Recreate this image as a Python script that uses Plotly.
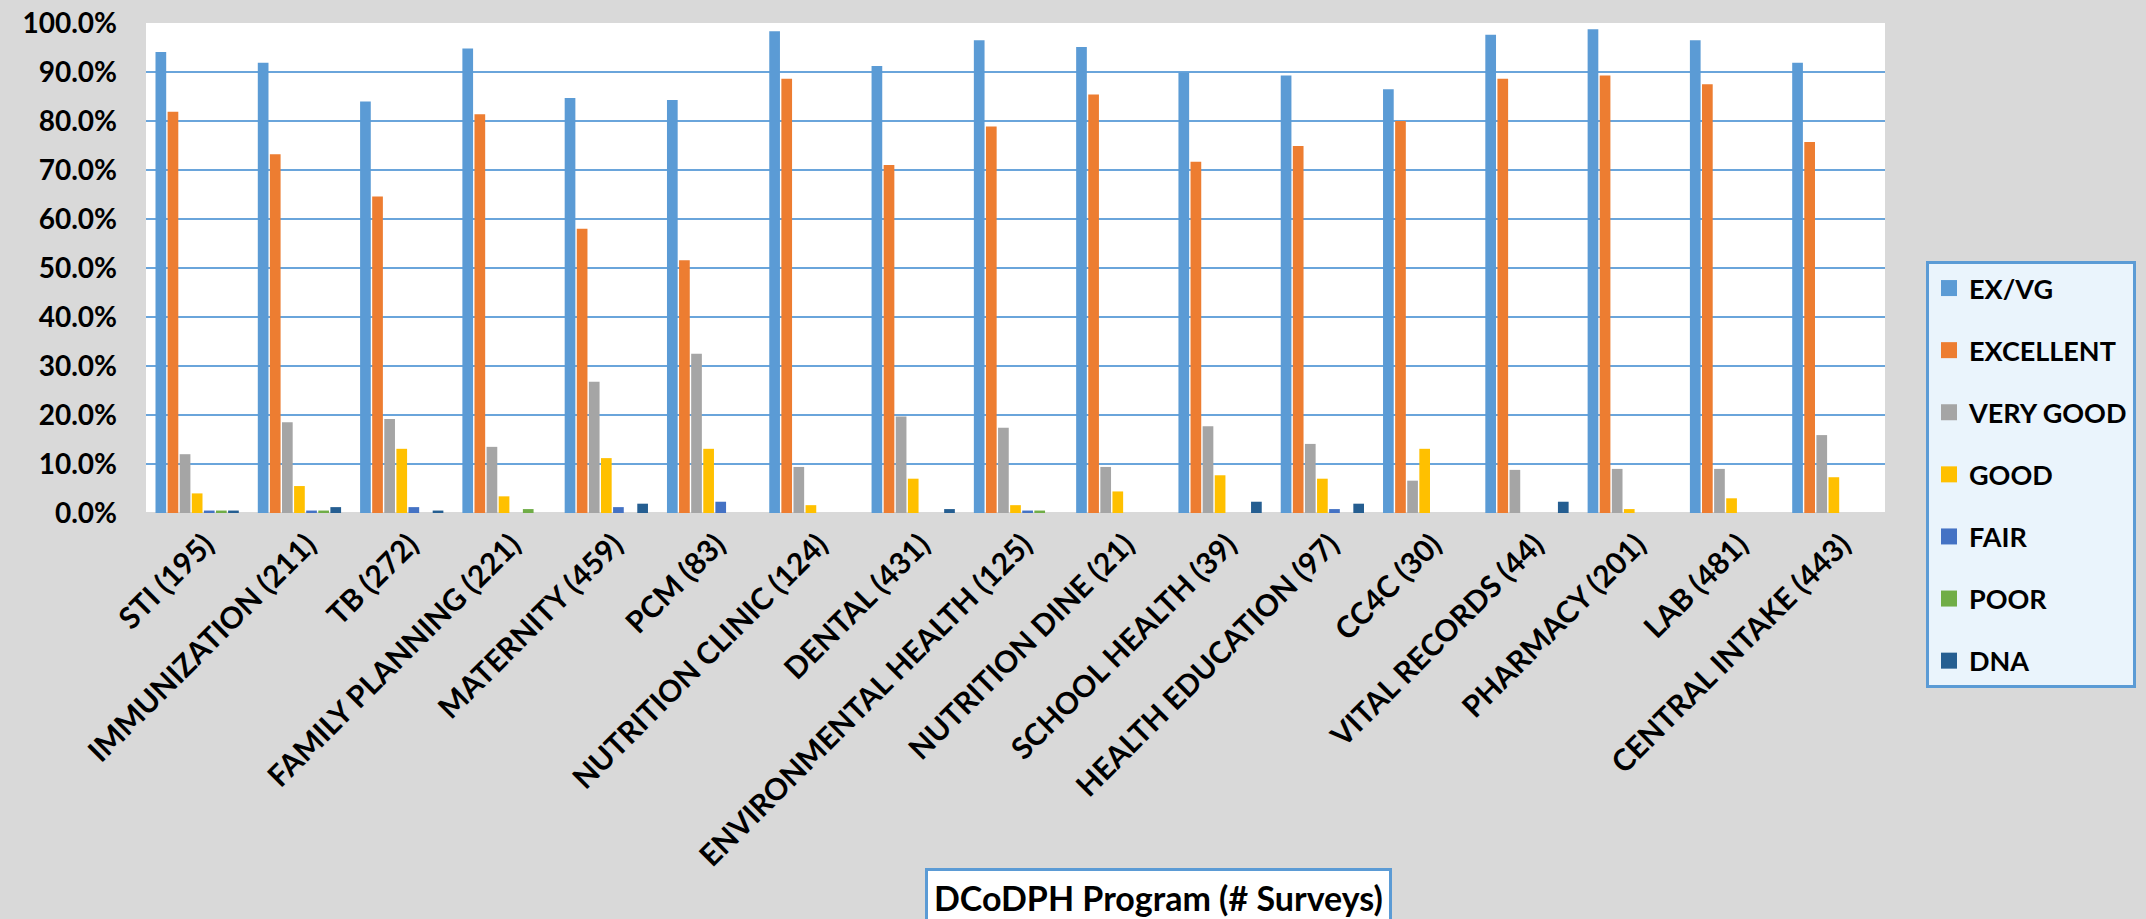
import plotly.graph_objects as go

# Programs surveyed (number of surveys in parentheses)
programs = [
    "STI (195)", "IMMUNIZATION (211)", "TB (272)", "FAMILY PLANNING (221)",
    "MATERNITY (459)", "PCM (83)", "NUTRITION CLINIC (124)", "DENTAL (431)",
    "ENVIRONMENTAL HEALTH (125)", "NUTRITION DINE (21)", "SCHOOL HEALTH (39)",
    "HEALTH EDUCATION (97)", "CC4C (30)", "VITAL RECORDS (44)",
    "PHARMACY (201)", "LAB (481)", "CENTRAL INTAKE (443)",
]

# Share of responses per rating (fractions)
ex_vg = [0.941, 0.919, 0.840, 0.948, 0.847, 0.843, 0.983, 0.912, 0.965,
         0.951, 0.899, 0.893, 0.865, 0.976, 0.987, 0.965, 0.919]
excellent = [0.819, 0.732, 0.646, 0.814, 0.580, 0.516, 0.886, 0.710, 0.789,
             0.854, 0.717, 0.749, 0.800, 0.886, 0.893, 0.875, 0.757]
very_good = [0.120, 0.185, 0.192, 0.135, 0.268, 0.325, 0.094, 0.197, 0.174,
             0.094, 0.177, 0.141, 0.066, 0.088, 0.090, 0.090, 0.159]
good = [0.040, 0.055, 0.131, 0.034, 0.112, 0.131, 0.016, 0.070, 0.016,
        0.044, 0.077, 0.070, 0.131, 0.0, 0.008, 0.030, 0.073]
fair = [0.005, 0.005, 0.012, 0.0, 0.012, 0.023, 0.0, 0.0, 0.005,
        0.0, 0.0, 0.008, 0.0, 0.0, 0.0, 0.0, 0.0]
poor = [0.005, 0.005, 0.0, 0.008, 0.0, 0.0, 0.0, 0.0, 0.005,
        0.0, 0.0, 0.0, 0.0, 0.0, 0.0, 0.0, 0.0]
dna = [0.005, 0.012, 0.005, 0.0, 0.019, 0.0, 0.0, 0.008, 0.0,
       0.0, 0.023, 0.019, 0.0, 0.023, 0.0, 0.0, 0.0]

series_names = ["EX/VG", "EXCELLENT", "VERY GOOD", "GOOD", "FAIR", "POOR", "DNA"]
series_values = [ex_vg, excellent, very_good, good, fair, poor, dna]
series_colors = ["#5B9BD5", "#ED7D31", "#A5A5A5", "#FFC000", "#4472C4", "#70AD47", "#255E91"]

FONT = "Lato"

fig = go.Figure()
for name, vals, col in zip(series_names, series_values, series_colors):
    fig.add_trace(go.Bar(
        x=programs, y=vals, name=name, marker_color=col,
        marker_line_width=0, showlegend=False,
    ))
# Legend entries with larger square swatches
for i, (name, col) in enumerate(zip(series_names, series_colors)):
    fig.add_trace(go.Scatter(
        x=[None], y=[None], mode="markers", name=name,
        marker=dict(symbol="square", size=17, color=col),
        legendgroup=f"g{i}", showlegend=True,
    ))

W, H = 2146, 919
L, R, T, B = 146, 2146 - 1885, 23, 406
plot_w = W - L - R
plot_h = H - T - B

fig.update_layout(
    width=W, height=H,
    margin=dict(l=L, r=R, t=T, b=B, autoexpand=False),
    paper_bgcolor="#d9d9d9",
    plot_bgcolor="#ffffff",
    barmode="group",
    bargap=0.172,
    bargroupgap=0.116,
    font=dict(family=FONT, color="#000000"),
    showlegend=True,
    legend=dict(
        x=(1926 - L) / plot_w, y=(T + plot_h - 261) / plot_h,
        xanchor="left", yanchor="top",
        bgcolor="#eaf4fc", bordercolor="#5B9BD5", borderwidth=3,
        font=dict(family=FONT, size=27, color="#000000", weight="bold"),
        tracegroupgap=24,
        itemclick=False,
    ),
)

fig.update_yaxes(
    range=[0, 1], dtick=0.1, tickformat=".1%",
    showgrid=True, gridcolor="#6aa5db", gridwidth=2,
    zeroline=True, zerolinecolor="#d9d9d9", zerolinewidth=2,
    showline=False, ticks="", ticklabelstandoff=28,
    tickfont=dict(family=FONT, size=28, color="#000000", weight="bold"),
)
fig.update_xaxes(
    type="category", tickangle=-45, showgrid=False, showline=False,
    ticks="", ticklabelstandoff=7, ticklabelshift=8,
    tickfont=dict(family=FONT, size=30, color="#000000", weight="bold"),
)

# Axis caption in a framed box below the category labels
fig.add_annotation(
    text="DCoDPH Program (# Surveys)",
    xref="paper", yref="paper",
    x=(1158 - L) / plot_w, y=(T + plot_h - 898) / plot_h,
    xanchor="center", yanchor="middle", showarrow=False,
    font=dict(family=FONT, size=34, color="#000000", weight="bold"),
    bgcolor="#ffffff", bordercolor="#5B9BD5", borderwidth=3, borderpad=6,
)

fig.write_html("out.html")
